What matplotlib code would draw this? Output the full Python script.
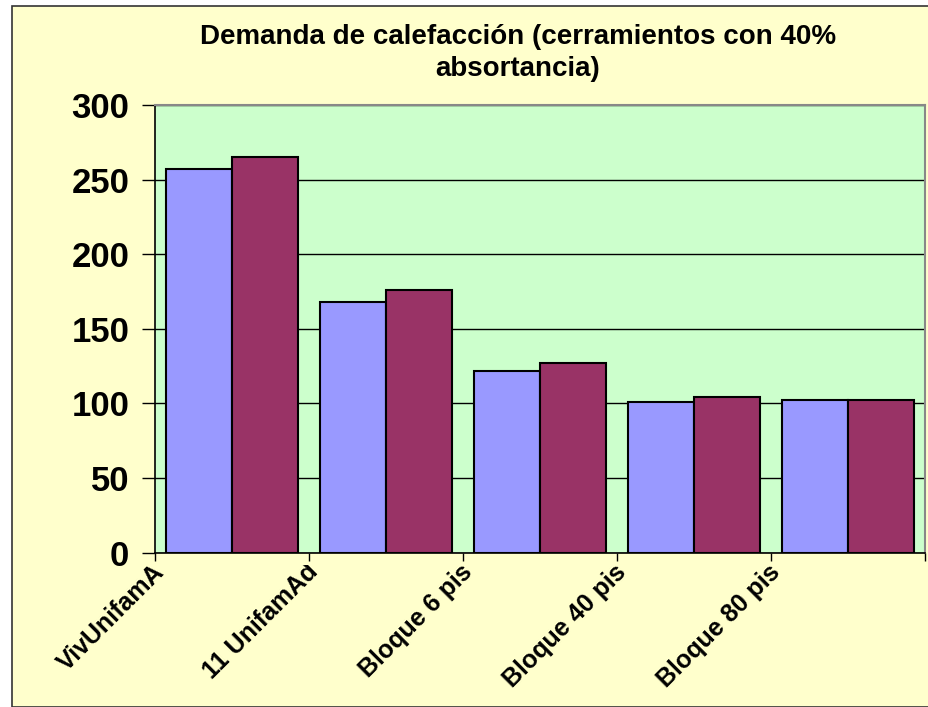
import numpy as np
import matplotlib.pyplot as plt
from matplotlib.patches import Rectangle
from matplotlib.transforms import IdentityTransform

# Heating demand per building type, two envelope variants
categories = ['VivUnifamA', '11 UnifamAd', 'Bloque 6 pis', 'Bloque 40 pis', 'Bloque 80 pis']
serie_1 = [257, 168, 122, 101, 102]
serie_2 = [265, 176, 127, 104, 102]
y_ticks = [0, 50, 100, 150, 200, 250, 300]

title = 'Demanda de calefacción (cerramientos con 40%\nabsortancia)'

plt.rcParams['font.family'] = ['Liberation Sans', 'DejaVu Sans']

fig = plt.figure(figsize=(9.29, 7.07), dpi=100)
fig.patch.set_facecolor('white')

# Chart area frame
frame = Rectangle((12 / 929, 0), 1.0, 1 - 6 / 707, transform=fig.transFigure,
                  facecolor='#FFFFCC', edgecolor='#333333', linewidth=1.2, zorder=-5)
fig.patches.append(frame)

ax = fig.add_axes([155 / 929, 1 - 552.5 / 707, 770 / 929, 447.5 / 707])
ax.set_zorder(2)
ax.set_facecolor('#CCFFCC')

x = np.arange(len(categories))
w = 0.43
ax.bar(x + 0.5 - w / 2, serie_1, width=w, color='#9999FF', edgecolor='black', linewidth=1.5, zorder=3)
ax.bar(x + 0.5 + w / 2, serie_2, width=w, color='#993366', edgecolor='black', linewidth=1.5, zorder=3)

ax.set_xlim(0, len(categories))
ax.set_ylim(0, 300)
ax.set_yticks(y_ticks)
ax.set_yticklabels([str(v) for v in y_ticks], fontsize=25, fontweight='bold')
ax.yaxis.grid(True, color='black', linewidth=1, zorder=1)
ax.set_axisbelow(True)
ax.tick_params(axis='y', length=9.5, width=1, pad=9)

ax.set_xticks(np.arange(len(categories) + 1))
ax.set_xticklabels([])
ax.tick_params(axis='x', direction='out', length=6, width=1)

for side in ['left', 'bottom']:
    ax.spines[side].set_color('black')
    ax.spines[side].set_linewidth(1.2)
for side in ['top', 'right']:
    ax.spines[side].set_color('#888888')
    ax.spines[side].set_linewidth(1.5)

# Rotated category labels, cut off just under the axis like the spreadsheet does
clip = Rectangle((0, 0), 929, 707 - 565, transform=IdentityTransform())
for i, label in enumerate(categories):
    t = ax.text(i + 0.035, -0.035, label, transform=ax.get_xaxis_transform(),
                rotation=45, rotation_mode='anchor', ha='right', va='center',
                fontsize=18, fontweight='bold', clip_on=True)
    t.set_clip_path(clip)

fig.text(518 / 929, 1 - 53 / 707, title, ha='center', va='center',
         fontsize=20, fontweight='bold', linespacing=1.3)

fig.savefig('out.png', dpi=100)
